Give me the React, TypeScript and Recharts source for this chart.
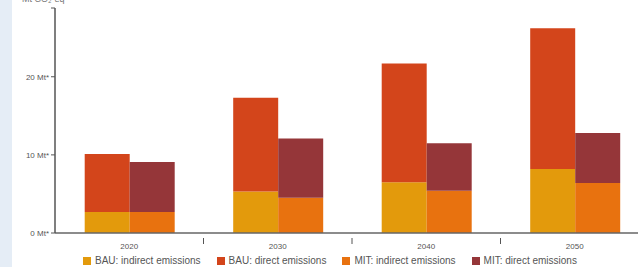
import { BarChart, Bar, XAxis, YAxis } from 'recharts';

const years = ['2020', '2030', '2040', '2050'];
const bauIndirect = [2.7, 5.3, 6.5, 8.2];
const bauDirect = [7.4, 12.0, 15.2, 18.0];
const mitIndirect = [2.7, 4.5, 5.4, 6.4];
const mitDirect = [6.4, 7.6, 6.1, 6.4];
const yTicks = [0, 10, 20, 28.8];

const SERIES = [
  { key: 'bauIndirect', name: 'BAU: indirect emissions', color: '#e39a0c', stack: 'bau' },
  { key: 'bauDirect', name: 'BAU: direct emissions', color: '#d3451b', stack: 'bau' },
  { key: 'mitIndirect', name: 'MIT: indirect emissions', color: '#e8720f', stack: 'mit' },
  { key: 'mitDirect', name: 'MIT: direct emissions', color: '#953639', stack: 'mit' },
];

const data = years.map((year, i) => ({
  year,
  bauIndirect: bauIndirect[i],
  bauDirect: bauDirect[i],
  mitIndirect: mitIndirect[i],
  mitDirect: mitDirect[i],
}));

const FONT = '"Liberation Sans", Arial, sans-serif';

// label in the middle of the band, tick mark on the band's left edge
const YearTick = (props: any) => {
  const { x, y, payload, index } = props;
  const half = payload?.offset || 74;
  return (
    <g>
      {index > 0 && <line x1={x - half} x2={x - half} y1={y - 3} y2={y + 3} stroke="#555" />}
      <text x={x} y={y + 8} textAnchor="middle" fontSize={8} fill="#555" fontFamily={FONT}>
        {payload.value}
      </text>
    </g>
  );
};

export default function App() {
  return (
    <div
      style={{
        position: 'fixed',
        left: 0,
        top: 0,
        width: 638,
        height: 267,
        overflow: 'hidden',
        background: '#fff',
        fontFamily: FONT,
      }}
    >
      <div style={{ position: 'absolute', left: 0, top: 0, width: 12, height: 267, background: '#e5edf6' }} />
      <div style={{ position: 'absolute', left: 22, top: -6, fontSize: 9, color: '#777' }}>
        Mt CO₂-eq
      </div>
      <div style={{ position: 'absolute', left: 0, top: 0 }}>
        <BarChart
          width={660}
          height={267}
          data={data}
          margin={{ top: 8, right: 11, left: 0, bottom: 4 }}
          barCategoryGap="20%"
          barGap={0}
        >
          <XAxis
            dataKey="year"
            height={30}
            tick={<YearTick />}
            tickLine={false}
            axisLine={{ stroke: '#666', strokeWidth: 1.5 }}
            interval={0}
          />
          <YAxis
            width={55}
            domain={[0, 28.8]}
            ticks={yTicks}
            allowDataOverflow
            tickFormatter={(v: number) => (v === 28.8 ? '' : `${v} Mt*`)}
            tick={{ fontSize: 8, fill: '#555', fontFamily: FONT }}
            tickSize={4}
            tickLine={{ stroke: '#555' }}
            axisLine={{ stroke: '#555', strokeWidth: 1.5 }}
          />
          {SERIES.map((s) => (
            <Bar
              key={s.key}
              dataKey={s.key}
              name={s.name}
              stackId={s.stack}
              fill={s.color}
              isAnimationActive={false}
            />
          ))}
        </BarChart>
      </div>

      {/* legend */}
      <div
        style={{
          position: 'absolute',
          zIndex: 2,
          left: 83,
          top: 255,
          display: 'flex',
          gap: 16,
          fontSize: 10,
          lineHeight: '12px',
          color: '#555',
          whiteSpace: 'nowrap',
        }}
      >
        {SERIES.map((s) => (
          <div key={s.key} style={{ display: 'flex', alignItems: 'center', gap: 4 }}>
            <div style={{ width: 8, height: 8, background: s.color }} />
            <span>{s.name}</span>
          </div>
        ))}
      </div>
    </div>
  );
}
